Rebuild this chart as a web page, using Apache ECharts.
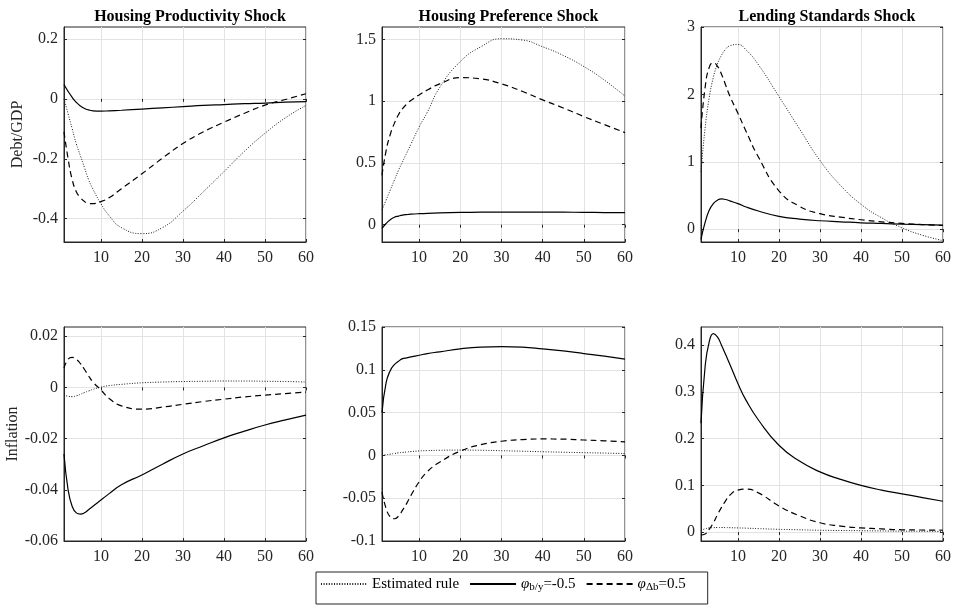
<!DOCTYPE html>
<html><head><meta charset="utf-8">
<script src="https://cdn.jsdelivr.net/npm/echarts@6/dist/echarts.min.js"></script>
<style>html,body{margin:0;padding:0;background:#fff}#c{width:956px;height:608px}</style>
</head><body><div id="c"></div>
<script>
// ---------- data ----------
const periods = [1,2,3,4,5,6,7,8,10,12,15,20,25,30,35,40,45,50,55,60];
const xTickValues = [10,20,30,40,50,60];
const shockTitles = ['Housing Productivity Shock','Housing Preference Shock','Lending Standards Shock'];
const rowNames = ['Debt/GDP','Inflation'];
const seriesNames = ['Estimated rule','phi_by','phi_db'];

// Debt/GDP – housing productivity
const debtProdEst = [0.0,-0.05,-0.10,-0.15,-0.19,-0.23,-0.27,-0.30,-0.35,-0.39,-0.43,-0.45,-0.43,-0.375,-0.31,-0.243,-0.175,-0.115,-0.063,-0.022];
const debtProdBY  = [0.048,0.025,0.005,-0.012,-0.024,-0.032,-0.037,-0.040,-0.041,-0.040,-0.038,-0.034,-0.030,-0.026,-0.022,-0.019,-0.016,-0.014,-0.011,-0.009];
const debtProdDB  = [-0.11,-0.20,-0.27,-0.31,-0.33,-0.343,-0.349,-0.35,-0.343,-0.33,-0.30,-0.25,-0.198,-0.149,-0.11,-0.078,-0.048,-0.021,-0.002,0.017];
// Debt/GDP – housing preference
const debtPrefEst = [0.12,0.20,0.28,0.36,0.44,0.51,0.58,0.65,0.79,0.91,1.11,1.32,1.44,1.505,1.495,1.44,1.37,1.28,1.17,1.04];
const debtPrefBY  = [-0.03,0.01,0.04,0.06,0.07,0.078,0.082,0.085,0.089,0.092,0.095,0.099,0.101,0.102,0.102,0.102,0.101,0.10,0.098,0.097];
const debtPrefDB  = [0.40,0.60,0.73,0.82,0.89,0.94,0.975,1.005,1.05,1.09,1.14,1.19,1.18,1.14,1.08,1.01,0.945,0.875,0.81,0.745];
// Debt/GDP – lending standards
const debtLendEst = [0.85,1.50,1.95,2.25,2.45,2.58,2.67,2.72,2.74,2.66,2.44,1.97,1.49,1.02,0.65,0.37,0.17,0.02,-0.09,-0.17];
const debtLendBY  = [-0.15,0.10,0.28,0.38,0.43,0.45,0.44,0.42,0.38,0.33,0.27,0.19,0.15,0.125,0.11,0.095,0.085,0.075,0.067,0.06];
const debtLendDB  = [1.50,2.10,2.40,2.47,2.42,2.30,2.14,1.98,1.72,1.45,1.07,0.57,0.34,0.23,0.18,0.14,0.11,0.085,0.068,0.055];
// Inflation – housing productivity
const inflProdEst = [-0.0028,-0.0035,-0.0036,-0.0033,-0.0027,-0.002,-0.0014,-0.0008,0.0001,0.0007,0.0012,0.0018,0.0021,0.0023,0.0024,0.0025,0.0025,0.0024,0.0023,0.0021];
const inflProdBY  = [-0.026,-0.040,-0.0465,-0.049,-0.0495,-0.049,-0.0478,-0.0465,-0.044,-0.0415,-0.038,-0.0342,-0.030,-0.026,-0.0228,-0.0197,-0.0171,-0.0147,-0.0127,-0.0108];
const inflProdDB  = [0.0075,0.011,0.0117,0.011,0.0093,0.007,0.0045,0.0022,-0.001,-0.0043,-0.0072,-0.0085,-0.0077,-0.0066,-0.0055,-0.0046,-0.0037,-0.003,-0.0024,-0.0018];
// Inflation – housing preference
const inflPrefEst = [0.0,0.0008,0.0015,0.0022,0.003,0.0035,0.004,0.0045,0.0052,0.0056,0.006,0.0062,0.006,0.0055,0.0049,0.0043,0.0037,0.0032,0.0027,0.0022];
const inflPrefBY  = [0.05,0.085,0.099,0.106,0.11,0.113,0.114,0.115,0.117,0.119,0.121,0.1245,0.1265,0.127,0.1265,0.1245,0.122,0.119,0.116,0.1125];
const inflPrefDB  = [-0.043,-0.062,-0.072,-0.074,-0.071,-0.064,-0.056,-0.047,-0.031,-0.019,-0.008,0.005,0.0125,0.0165,0.0185,0.0192,0.019,0.018,0.017,0.0158];
// Inflation – lending standards
const inflLendEst = [0.004,0.007,0.009,0.0095,0.0098,0.0098,0.0097,0.0095,0.009,0.0085,0.0075,0.006,0.005,0.004,0.0035,0.003,0.0025,0.002,0.0018,0.0015];
const inflLendBY  = [0.233,0.354,0.407,0.425,0.418,0.40,0.38,0.36,0.318,0.282,0.24,0.186,0.152,0.129,0.113,0.10,0.09,0.082,0.074,0.066];
const inflLendDB  = [-0.006,-0.004,0.006,0.02,0.037,0.053,0.067,0.079,0.09,0.092,0.084,0.056,0.035,0.02,0.013,0.009,0.007,0.005,0.0045,0.004];

// y-axis tick labels and limits per panel
const yTicksDebtProd = [-0.4,-0.2,0,0.2];      const yLimDebtProd = [-0.478,0.24];
const yTicksDebtPref = [0,0.5,1,1.5];          const yLimDebtPref = [-0.14,1.6];
const yTicksDebtLend = [0,1,2,3];              const yLimDebtLend = [-0.19,3];
const yTicksInflProd = [-0.06,-0.04,-0.02,0,0.02]; const yLimInflProd = [-0.06,0.0236];
const yTicksInflPref = [-0.1,-0.05,0,0.05,0.1,0.15]; const yLimInflPref = [-0.1,0.15];
const yTicksInflLend = [0,0.1,0.2,0.3,0.4];    const yLimInflLend = [-0.019,0.439];

// ---------- layout / style ----------
const FONT = '"Liberation Serif","Times New Roman",serif';
const AX = '#262626';
const GRIDC = '#e3e3e3';
const lefts = [64,382,701], widths = [242,243,242];
const tops = [27,327], heights = [215,214];

const panels = [
  {row:0,col:0,lim:yLimDebtProd,ticks:yTicksDebtProd,vals:[debtProdEst,debtProdBY,debtProdDB]},
  {row:0,col:1,lim:yLimDebtPref,ticks:yTicksDebtPref,vals:[debtPrefEst,debtPrefBY,debtPrefDB]},
  {row:0,col:2,lim:yLimDebtLend,ticks:yTicksDebtLend,vals:[debtLendEst,debtLendBY,debtLendDB]},
  {row:1,col:0,lim:yLimInflProd,ticks:yTicksInflProd,vals:[inflProdEst,inflProdBY,inflProdDB]},
  {row:1,col:1,lim:yLimInflPref,ticks:yTicksInflPref,vals:[inflPrefEst,inflPrefBY,inflPrefDB]},
  {row:1,col:2,lim:yLimInflLend,ticks:yTicksInflLend,vals:[inflLendEst,inflLendBY,inflLendDB]}
];

const lineStyles = [
  {color:'#1a1a1a',width:1,type:[1,1.6]},
  {color:'#000',width:1.2,type:'solid'},
  {color:'#000',width:1.2,type:[6,4]}
];

const grid=[],xAxis=[],yAxis=[],series=[];
panels.forEach((p,i)=>{
  grid.push({left:lefts[p.col],top:tops[p.row],width:widths[p.col],height:heights[p.row],
    show:true,borderColor:AX,borderWidth:1,backgroundColor:'transparent'});
  xAxis.push({type:'value',gridIndex:i,min:1,max:60,
    axisLine:{show:true,onZero:false,lineStyle:{color:AX}},
    axisTick:{show:true,inside:true,length:3,customValues:xTickValues,lineStyle:{color:AX}},
    axisLabel:{customValues:xTickValues,color:AX,fontFamily:FONT,fontSize:16,margin:8},
    splitLine:{show:true,lineStyle:{color:GRIDC,width:1}}});
  yAxis.push({type:'value',gridIndex:i,min:p.lim[0],max:p.lim[1],
    name:p.col===0?rowNames[p.row]:'',nameLocation:'middle',nameRotate:90,nameGap:38,
    nameTextStyle:{fontFamily:FONT,fontSize:16,color:AX},
    axisLine:{show:true,onZero:false,lineStyle:{color:AX}},
    axisTick:{show:true,inside:true,length:3,customValues:p.ticks,lineStyle:{color:AX}},
    axisLabel:{customValues:p.ticks,color:AX,fontFamily:FONT,fontSize:16,margin:6},
    splitLine:{show:true,lineStyle:{color:GRIDC,width:1}}});
  p.vals.forEach((v,k)=>{
    series.push({type:'line',name:seriesNames[k],xAxisIndex:i,yAxisIndex:i,
      data:periods.map((x,j)=>[x,v[j]]),showSymbol:false,symbol:'none',
      smooth:0.5,lineStyle:lineStyles[k],itemStyle:{color:lineStyles[k].color},
      z:k===0?3:4,silent:true,animation:false});
  });
});
// mirror axes (top / right) carrying inward ticks only, as in a boxed MATLAB axes
panels.forEach((p,i)=>{
  xAxis.push({type:'value',gridIndex:i,min:1,max:60,position:'top',
    axisLine:{show:false},axisLabel:{show:false},splitLine:{show:false},
    axisTick:{show:true,inside:true,length:3,customValues:xTickValues,lineStyle:{color:AX}}});
  yAxis.push({type:'value',gridIndex:i,min:p.lim[0],max:p.lim[1],position:'right',
    axisLine:{show:false},axisLabel:{show:false},splitLine:{show:false},
    axisTick:{show:true,inside:true,length:3,customValues:p.ticks,lineStyle:{color:AX}}});
});

const title = shockTitles.map((t,c)=>({text:t,left:lefts[c]+widths[c]/2,top:4,textAlign:'center',
  textStyle:{fontFamily:FONT,fontSize:16,fontWeight:'bold',color:'#000'}}));

const chart = echarts.init(document.getElementById('c'),null,{renderer:'canvas'});
chart.setOption({
  animation:false,
  title,grid,xAxis,yAxis,series,
  legend:{data:seriesNames,left:316,top:572,orient:'horizontal',
    padding:[3,22,11,4],itemGap:10,itemWidth:46,itemHeight:10,
    borderColor:AX,borderWidth:1,borderRadius:0,backgroundColor:'#fff',
    selectedMode:false,itemStyle:{opacity:0},
    textStyle:{fontFamily:FONT,fontSize:15,color:'#000',lineHeight:18,
      rich:{phi:{fontFamily:FONT,fontSize:15,fontStyle:'italic',color:'#000',lineHeight:18},
            sub:{fontFamily:FONT,fontSize:11,color:'#000',lineHeight:8,verticalAlign:'bottom'},
            n:{fontFamily:FONT,fontSize:15,color:'#000',lineHeight:18}}},
    formatter:function(name){
      if(name==='phi_by') return '{phi|φ}{sub|b/y}{n|=-0.5}';
      if(name==='phi_db') return '{phi|φ}{sub|Δb}{n|=0.5}';
      return name;
    }}
});
</script></body></html>
